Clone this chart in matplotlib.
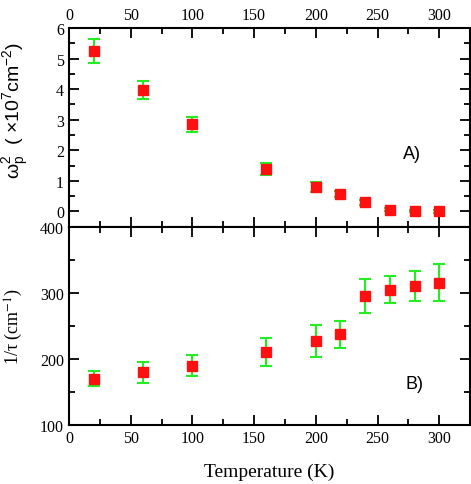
import matplotlib
matplotlib.use("Agg")
import matplotlib.pyplot as plt
from matplotlib.ticker import MultipleLocator

plt.rcParams["font.family"] = "Liberation Serif"
plt.rcParams["mathtext.fontset"] = "custom"
plt.rcParams["mathtext.rm"] = "Liberation Sans"
plt.rcParams["mathtext.it"] = "Liberation Sans:italic"

temperature = [20, 60, 100, 160, 200, 220, 240, 260, 280, 300]
omega_p2 = [5.25, 3.98, 2.85, 1.38, 0.81, 0.57, 0.30, 0.06, 0.01, 0.0]
omega_p2_err = [0.40, 0.30, 0.24, 0.20, 0.16, 0.11, 0.08, 0.05, 0.04, 0.04]
inv_tau = [170, 180, 190, 210, 227, 237, 295, 305, 310, 315]
inv_tau_err = [11, 16, 16, 21, 24, 20, 26, 21, 23, 28]

marker_red = "#ff1010"
bar_green = "#22ee22"

fig = plt.figure(figsize=(4.71, 4.85), dpi=100)
ax1 = fig.add_axes([0.1465, 0.5305, 0.8515, 0.4097])
ax2 = fig.add_axes([0.1465, 0.1216, 0.8515, 0.4089])

for ax, y, yerr in [(ax1, omega_p2, omega_p2_err), (ax2, inv_tau, inv_tau_err)]:
    ax.errorbar(temperature, y, yerr=yerr, fmt="s", color=marker_red, ms=6.5,
                mec=marker_red, ecolor=bar_green, elinewidth=1.5, capsize=4,
                capthick=1.5, zorder=3)
    ax.set_xlim(0, 325)
    ax.xaxis.set_major_locator(MultipleLocator(50))
    ax.xaxis.set_minor_locator(MultipleLocator(25))
    for side in ax.spines.values():
        side.set_linewidth(1.5)
    ax.tick_params(which="both", direction="in", top=True, right=True,
                   labelsize=11.5, width=1.3)
    ax.tick_params(which="major", length=7)
    ax.tick_params(which="minor", length=4)

ax1.set_ylim(-0.5, 6)
ax1.yaxis.set_major_locator(MultipleLocator(1))
ax1.yaxis.set_minor_locator(MultipleLocator(0.5))
ax1.tick_params(labelbottom=False, labeltop=True)
ax1.set_ylabel(r"$\mathrm{ω}_\mathrm{p}^2$  ( ×10$^7$cm$^{-2}$)",
               family="Liberation Sans", fontsize=14)
ax1.yaxis.set_label_coords(-0.095, 0.59)
ax1.text(0.833, 0.366, "A)", transform=ax1.transAxes, family="Liberation Sans",
         fontsize=13, va="center")

ax2.set_ylim(100, 400)
ax2.yaxis.set_major_locator(MultipleLocator(100))
ax2.yaxis.set_minor_locator(MultipleLocator(50))
ax2.set_ylabel("1/τ (cm$^{-1}$)", fontsize=13, math_fontfamily="stix")
ax2.yaxis.set_label_coords(-0.11, 0.5)
ax2.set_xlabel("Temperature (K)", fontsize=14)
ax2.xaxis.set_label_coords(0.5, -0.19)
ax2.text(0.838, 0.207, "B)", transform=ax2.transAxes, family="Liberation Sans",
         fontsize=13, va="center")

fig.savefig("out.png", dpi=100)
